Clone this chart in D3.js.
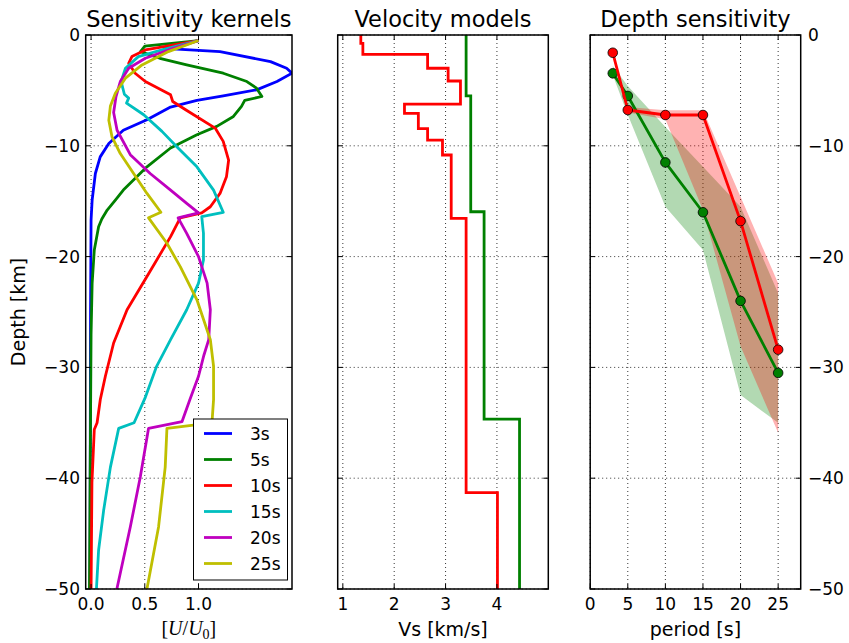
<!DOCTYPE html>
<html>
<head>
<meta charset="utf-8">
<script src="https://cdn.jsdelivr.net/npm/d3@7"></script>
<style>
  body { margin: 0; background: #fff; }
  text { font-family: "DejaVu Sans", sans-serif; fill: #000; }
</style>
</head>
<body>
<svg width="849" height="643"></svg>
<script>
// ---- data ----
// kernels: [U/U0, depth km]
var kernel3s = [[1.0,-0.5],[0.68,-1.2],[1.2,-1.5],[1.67,-2.4],[1.82,-3.0],[1.87,-3.45],[1.73,-4.2],[1.54,-4.95],[1.23,-5.5],[0.985,-5.9],[0.74,-6.5],[0.52,-7.65],[0.30,-8.6],[0.165,-9.8],[0.085,-11.0],[0.04,-12.5],[0.01,-14.9],[0.0,-16.7],[-0.005,-25],[-0.01,-50]];
var kernel5s = [[1.0,-0.5],[0.5,-1.0],[0.46,-1.5],[0.64,-2.1],[0.89,-2.7],[1.23,-3.45],[1.45,-4.2],[1.54,-4.8],[1.59,-5.55],[1.43,-5.9],[1.40,-6.45],[1.325,-7.35],[1.17,-8.25],[0.985,-9.0],[0.74,-10.2],[0.52,-11.9],[0.30,-14.0],[0.226,-14.9],[0.15,-15.8],[0.10,-16.6],[0.07,-17.3],[0.03,-19.4],[0.01,-22.4],[0.0,-27],[-0.015,-50]];
var kernel10s = [[1.0,-0.5],[0.505,-1.35],[0.38,-1.95],[0.35,-2.55],[0.41,-3.45],[0.505,-4.2],[0.74,-5.4],[0.76,-6.0],[0.88,-6.75],[1.155,-8.4],[1.23,-9.6],[1.28,-11.3],[1.26,-12.8],[1.20,-14.3],[1.11,-15.5],[1.03,-16.05],[0.83,-16.5],[0.74,-18.2],[0.52,-21.8],[0.335,-24.8],[0.21,-27.8],[0.133,-30.8],[0.086,-32.9],[0.056,-35.0],[0.03,-35.6],[0.008,-40.4],[0.0,-50]];
var kernel15s = [[1.0,-0.5],[0.66,-1.35],[0.44,-1.95],[0.32,-3.0],[0.28,-4.2],[0.31,-5.35],[0.35,-5.7],[0.33,-6.15],[0.49,-7.2],[0.66,-8.7],[0.80,-10.1],[0.985,-11.9],[1.14,-14.0],[1.23,-16.0],[1.03,-16.4],[1.046,-17.9],[1.046,-20.3],[1.0,-22.4],[0.89,-24.8],[0.74,-27.5],[0.61,-29.9],[0.505,-32.7],[0.40,-35.0],[0.257,-35.5],[0.18,-39.0],[0.117,-42.9],[0.07,-46.5],[0.05,-50]];
var kernel20s = [[1.0,-0.5],[0.72,-1.35],[0.505,-2.1],[0.35,-3.0],[0.272,-4.2],[0.232,-5.55],[0.21,-7.0],[0.242,-8.6],[0.365,-10.8],[0.55,-12.5],[0.74,-14.0],[0.89,-15.2],[1.0,-16.05],[0.81,-16.5],[0.89,-17.9],[1.0,-20.0],[1.08,-22.4],[1.11,-24.8],[1.095,-27.5],[1.05,-28.9],[1.0,-30.8],[0.92,-32.9],[0.846,-34.9],[0.535,-35.5],[0.458,-39.9],[0.365,-44.4],[0.24,-50]];
var kernel25s = [[1.0,-0.5],[0.72,-1.5],[0.474,-2.7],[0.32,-3.9],[0.226,-5.25],[0.18,-6.4],[0.165,-7.7],[0.195,-9.2],[0.272,-10.7],[0.396,-12.5],[0.52,-14.3],[0.65,-16.0],[0.535,-16.5],[0.706,-18.8],[0.83,-20.9],[0.985,-23.9],[1.11,-27.5],[1.14,-29.9],[1.14,-32.9],[1.125,-35.0],[0.706,-35.5],[0.69,-39.0],[0.628,-44.4],[0.52,-50]];
var kernelNames = ["3s", "5s", "10s", "15s", "20s", "25s"];
var kernelColors = ["#0000ff", "#008000", "#ff0000", "#00bfbf", "#bf00bf", "#bfbf00"];
var kernels = [kernel3s, kernel5s, kernel10s, kernel15s, kernel20s, kernel25s];

// velocity models: layer tops (km) and Vs (km/s)
var redTops = [0, -0.75, -1.75, -3.0, -4.15, -6.23, -7.07, -8.45, -9.48, -10.83, -16.55, -41.3];
var redVs   = [1.35, 1.39, 2.65, 3.05, 3.29, 2.2, 2.47, 2.65, 2.94, 3.11, 3.40, 4.01];
var greenTops = [0, -5.5, -15.95, -34.66];
var greenVs   = [3.40, 3.49, 3.75, 4.44];

// depth sensitivity
var periods = [3, 5, 10, 15, 20, 25];
var redDepth   = [-1.6, -6.77, -7.22, -7.22, -16.8, -28.4];
var redUpper   = [-1.5, -6.5, -6.8, -6.8, -14.6, -22.4];
var redLower   = [-1.7, -7.0, -7.6, -15.8, -28.1, -35.9];
var greenDepth = [-3.46, -5.5, -11.5, -16.0, -24.0, -30.5];
var greenUpper = [-2.8, -4.6, -8.3, -11.9, -15.5, -23.3];
var greenLower = [-3.6, -7.2, -15.5, -19.4, -32.5, -35.0];

var depthTicks = [0, -10, -20, -30, -40, -50];

// ---- layout ----
var svg = d3.select("svg");
var yTop = 35, yBot = 589;
var lw = 2.8;
var y = d3.scaleLinear().domain([0, -50]).range([yTop, yBot]);
var fmt = d3.format("d");

var panels = [
    {x0: 85.7, x1: 292, domain: [-0.05, 1.87], ticks: [0, 0.5, 1.0], tf: d3.format(".1f"),
     title: "Sensitivity kernels", ylab: "left"},
    {x0: 337.7, x1: 548.3, domain: [0.9, 5.0], ticks: [1, 2, 3, 4], tf: fmt,
     title: "Velocity models", ylab: "none"},
    {x0: 590.2, x1: 800.7, domain: [0, 28], ticks: [0, 5, 10, 15, 20, 25], tf: fmt,
     title: "Depth sensitivity", ylab: "right"}
];

panels.forEach(function (p, i) {
    p.x = d3.scaleLinear().domain(p.domain).range([p.x0, p.x1]);
    var g = svg.append("g");
    p.g = g;
    g.append("clipPath").attr("id", "clip" + i)
        .append("rect").attr("x", p.x0).attr("y", yTop)
        .attr("width", p.x1 - p.x0).attr("height", yBot - yTop);

    // grid
    var grid = g.append("g").attr("stroke", "#000").attr("stroke-width", 0.8)
        .attr("stroke-dasharray", "1,3");
    p.ticks.forEach(function (t) {
        grid.append("line").attr("x1", p.x(t)).attr("x2", p.x(t))
            .attr("y1", yTop).attr("y2", yBot);
    });
    depthTicks.forEach(function (t) {
        grid.append("line").attr("x1", p.x0).attr("x2", p.x1)
            .attr("y1", y(t)).attr("y2", y(t));
    });

    p.plot = g.append("g").attr("clip-path", "url(#clip" + i + ")");
});

// ---- panel 1: kernels ----
var p1 = panels[0];
var kline = d3.line().x(function (d) { return p1.x(d[0]); }).y(function (d) { return y(d[1]); });
kernels.forEach(function (k, i) {
    p1.plot.append("path").attr("d", kline(k)).attr("fill", "none")
        .attr("stroke", kernelColors[i]).attr("stroke-width", lw)
        .attr("stroke-linejoin", "round");
});

// ---- panel 2: velocity models ----
var p2 = panels[1];
function stepPoints(tops, vs) {
    var pts = [];
    tops.forEach(function (t, i) {
        var next = i + 1 < tops.length ? tops[i + 1] : -50;
        pts.push([vs[i], t]);
        pts.push([vs[i], next]);
    });
    return pts;
}
var vline = d3.line().x(function (d) { return p2.x(d[0]); }).y(function (d) { return y(d[1]); });
p2.plot.append("path").attr("d", vline(stepPoints(greenTops, greenVs))).attr("fill", "none")
    .attr("stroke", "#008000").attr("stroke-width", lw);
p2.plot.append("path").attr("d", vline(stepPoints(redTops, redVs))).attr("fill", "none")
    .attr("stroke", "#ff0000").attr("stroke-width", lw);

// ---- panel 3: depth sensitivity ----
var p3 = panels[2];
var area = d3.area().x(function (d) { return p3.x(d.p); })
    .y0(function (d) { return y(d.lo); }).y1(function (d) { return y(d.hi); });
var greenBand = periods.map(function (p, i) { return {p: p, lo: greenLower[i], hi: greenUpper[i]}; });
var redBand = periods.map(function (p, i) { return {p: p, lo: redLower[i], hi: redUpper[i]}; });
p3.plot.append("path").attr("d", area(greenBand)).attr("fill", "#008000").attr("fill-opacity", 0.3);
p3.plot.append("path").attr("d", area(redBand)).attr("fill", "#ff0000").attr("fill-opacity", 0.3);

var sline = d3.line().x(function (d) { return p3.x(d[0]); }).y(function (d) { return y(d[1]); });
[[greenDepth, "#008000"], [redDepth, "#ff0000"]].forEach(function (s) {
    var pts = periods.map(function (p, i) { return [p, s[0][i]]; });
    p3.plot.append("path").attr("d", sline(pts)).attr("fill", "none")
        .attr("stroke", s[1]).attr("stroke-width", lw).attr("stroke-linejoin", "round");
    p3.plot.selectAll(null).data(pts).enter().append("circle")
        .attr("cx", function (d) { return p3.x(d[0]); })
        .attr("cy", function (d) { return y(d[1]); })
        .attr("r", 4.8).attr("fill", s[1]).attr("stroke", "#000").attr("stroke-width", 0.8);
});

// ---- frames, ticks, labels ----
panels.forEach(function (p) {
    var g = p.g;
    var tk = g.append("g").attr("stroke", "#000").attr("stroke-width", 1);
    p.ticks.forEach(function (t) {
        var xx = p.x(t);
        tk.append("line").attr("x1", xx).attr("x2", xx).attr("y1", yBot).attr("y2", yBot - 5);
        tk.append("line").attr("x1", xx).attr("x2", xx).attr("y1", yTop).attr("y2", yTop + 5);
        g.append("text").attr("x", xx).attr("y", 610).attr("text-anchor", "middle")
            .style("font-size", "17px").text(p.tf(t));
    });
    depthTicks.forEach(function (t) {
        tk.append("line").attr("x1", p.x0).attr("x2", p.x0 + 5).attr("y1", y(t)).attr("y2", y(t));
        tk.append("line").attr("x1", p.x1).attr("x2", p.x1 - 5).attr("y1", y(t)).attr("y2", y(t));
        if (p.ylab === "left") {
            g.append("text").attr("x", 80).attr("y", y(t) + 6).attr("text-anchor", "end")
                .style("font-size", "17px").text(fmt(t));
        } else if (p.ylab === "right") {
            g.append("text").attr("x", 808).attr("y", y(t) + 6).attr("text-anchor", "start")
                .style("font-size", "17px").text(fmt(t));
        }
    });
    g.append("rect").attr("x", p.x0).attr("y", yTop).attr("width", p.x1 - p.x0)
        .attr("height", yBot - yTop).attr("fill", "none").attr("stroke", "#000")
        .attr("stroke-width", 1.5);
    g.append("text").attr("x", (p.x0 + p.x1) / 2).attr("y", 27).attr("text-anchor", "middle")
        .style("font-size", "22.5px").text(p.title);
});

// axis labels
svg.append("text").attr("transform", "translate(25," + (yTop + yBot) / 2 + ") rotate(-90)")
    .attr("text-anchor", "middle").style("font-size", "19px").text("Depth [km]");
svg.append("text").attr("x", (p2.x0 + p2.x1) / 2).attr("y", 636).attr("text-anchor", "middle")
    .style("font-size", "19px").text("Vs [km/s]");
svg.append("text").attr("x", (p3.x0 + p3.x1) / 2).attr("y", 636).attr("text-anchor", "middle")
    .style("font-size", "19px").text("period [s]");
var ul = svg.append("text").attr("x", (p1.x0 + p1.x1) / 2).attr("y", 635).attr("text-anchor", "middle")
    .style("font-size", "20px").style("font-family", "'Liberation Serif', 'DejaVu Serif', serif");
ul.append("tspan").text("[");
ul.append("tspan").style("font-style", "italic").text("U");
ul.append("tspan").text("/");
ul.append("tspan").style("font-style", "italic").text("U");
ul.append("tspan").attr("dy", 4).style("font-size", "14px").text("0");
ul.append("tspan").attr("dy", -4).text("]");

// legend
var lg = p1.g.append("g");
lg.append("rect").attr("x", 193.5).attr("y", 419).attr("width", 94).attr("height", 161)
    .attr("fill", "#fff").attr("stroke", "#000").attr("stroke-width", 1);
kernelNames.forEach(function (n, i) {
    var yy = 433.5 + i * 26;
    lg.append("line").attr("x1", 204).attr("x2", 232).attr("y1", yy).attr("y2", yy)
        .attr("stroke", kernelColors[i]).attr("stroke-width", lw);
    lg.append("text").attr("x", 250).attr("y", yy + 6).style("font-size", "17px").text(n);
});
</script>
</body>
</html>
